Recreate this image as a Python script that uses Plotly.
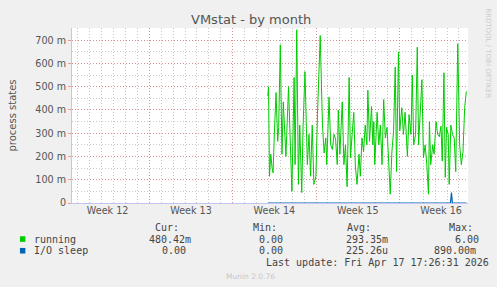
import plotly.graph_objects as go

# ---------------- data ----------------
# time in days since Mon 16 Mar 2026 00:00 (start of Week 12)
run_t = [16.95, 17.01, 17.09, 17.20, 17.31, 17.39, 17.50, 17.64, 17.78, 17.86, 18.00, 18.14, 18.25, 18.47,
         18.69, 18.80, 18.97, 19.16, 19.24, 19.38, 19.52, 19.63, 19.80, 19.91, 20.07, 20.27, 20.41, 20.54,
         20.68, 20.82,
         20.99, 21.12, 21.35, 21.54, 21.68, 21.82, 21.90, 22.09, 22.23, 22.37, 22.51, 22.64, 22.78, 22.87,
         23.00, 23.20, 23.34, 23.47, 23.61, 23.78, 23.89, 24.03, 24.17, 24.30, 24.44, 24.61, 24.72, 24.86,
         24.99, 25.13, 25.27, 25.35,
         25.49, 25.66, 25.77, 25.85, 25.93, 26.13, 26.27, 26.40, 26.54, 26.68, 26.82, 26.96, 27.09, 27.23,
         27.37, 27.51, 27.65, 27.76, 27.92, 28.03, 28.20, 28.34, 28.48, 28.67, 28.81, 28.97, 29.08, 29.20,
         29.36, 29.50,
         29.61, 29.75, 29.89, 30.02, 30.16, 30.30, 30.44, 30.52, 30.63, 30.80, 30.91, 31.08, 31.21, 31.35,
         31.49, 31.60, 31.74, 31.85, 31.96, 32.10, 32.18, 32.32, 32.46, 32.60, 32.73, 32.90, 33.06, 33.20,
         33.34, 33.48, 33.62]
# running, in milli-processes
run_v = [460, 500, 115, 210, 150, 130, 300, 475, 265, 325, 680, 210, 435, 200,
         500, 295, 50, 540, 165, 745, 80, 335, 45, 325, 565, 165, 295, 115,
         335, 80,
         115, 380, 720, 335, 215, 280, 165, 455, 250, 230, 295, 275, 165, 400,
         210, 435, 165, 250, 70, 540, 195, 295, 390, 160, 80, 210, 115, 280,
         220, 335, 250, 485,
         265, 415, 250, 350, 165, 390, 250, 335, 165, 445, 280, 325, 195, 38,
         220, 310, 585, 135, 650, 310, 410, 295, 390, 200, 380, 295, 550, 250,
         295, 670,
         250, 410, 530, 195, 250, 165, 38, 350, 165, 250, 210, 350, 295, 285,
         330, 180, 560, 110, 325, 295, 80, 335, 295, 280, 135, 685, 250, 165,
         220, 410, 480]

io_t = [16.95, 32.29, 32.37, 32.45, 33.62]
io_v = [0, 0, 45, 0, 0]

week_pos = [3.5, 10.5, 17.5, 24.5, 31.5]
week_labels = ["Week 12", "Week 13", "Week 14", "Week 15", "Week 16"]
week_bounds = [7, 14, 21, 28]
y_ticks = [0, 100, 200, 300, 400, 500, 600, 700]
y_labels = ["0", "100 m", "200 m", "300 m", "400 m", "500 m", "600 m", "700 m"]

legend_names = ["running", "I/O sleep"]
legend_colors = ["#00cc00", "#0066b3"]
cur_vals = ["480.42m", "0.00"]
min_vals = ["0.00", "0.00"]
avg_vals = ["293.35m", "225.26u"]
max_vals = ["6.00", "890.00m"]

# ---------------- layout geometry ----------------
W, H = 497, 287
L, R, T, B = 66.7, 467.7, 27.7, 203.3
X_RANGE = [0.508, 33.76]
Y_RANGE = [0, 752.6]


def px2x(px):
    return (px - L) / (R - L)


def py2y(py):
    return (B - py) / (B - T)


AXIS_COL = "#c4c4f0"
MAJOR = "rgba(225,120,120,0.7)"
MINOR = "rgba(170,170,170,0.65)"
DOT = "1px,2px"
TXT = "#555555"

fig = go.Figure()
fig.add_trace(go.Scatter(x=run_t, y=run_v, mode="lines", line=dict(color=legend_colors[0], width=1),
                         hoverinfo="skip", showlegend=False))
fig.add_trace(go.Scatter(x=io_t, y=io_v, mode="lines", line=dict(color=legend_colors[1], width=1.2),
                         hoverinfo="skip", showlegend=False))
# helper invisible trace so the label axis exists
fig.add_trace(go.Scatter(x=X_RANGE, y=[0, 0], xaxis="x2", mode="lines", line=dict(width=0),
                         hoverinfo="skip", showlegend=False))

fig.update_layout(
    width=W, height=H, autosize=False,
    margin=dict(l=L, r=W - R, t=T, b=H - B, pad=0),
    paper_bgcolor="#f0f0f0", plot_bgcolor="#ffffff",
    font=dict(family="DejaVu Sans", color=TXT, size=10),
    xaxis=dict(range=X_RANGE, tickmode="array", tickvals=week_bounds, showticklabels=False,
               showgrid=True, gridcolor=MAJOR, griddash=DOT, gridwidth=1,
               minor=dict(tickmode="linear", tick0=0, dtick=1, showgrid=True,
                          gridcolor=MINOR, griddash=DOT, gridwidth=1, ticks=""),
               ticks="", zeroline=False, showline=True, linecolor=AXIS_COL, linewidth=1, fixedrange=True),
    xaxis2=dict(range=X_RANGE, overlaying="x", anchor="y", side="bottom", tickmode="array",
                tickvals=week_pos, ticktext=week_labels, showgrid=False, zeroline=False, showline=False,
                ticks="", tickfont=dict(size=9.6, color=TXT), fixedrange=True),
    yaxis=dict(range=Y_RANGE, tickmode="array", tickvals=y_ticks, ticktext=y_labels,
               showgrid=True, gridcolor=MAJOR, griddash=DOT, gridwidth=1,
               minor=dict(tickmode="linear", tick0=0, dtick=50, showgrid=True,
                          gridcolor=MINOR, griddash=DOT, gridwidth=1, ticks=""),
               ticks="outside", ticklen=3, tickcolor=MAJOR, tickfont=dict(size=9.6, color=TXT),
               zeroline=False, showline=True, linecolor=AXIS_COL, linewidth=1, fixedrange=True,
               title=dict(text="process states", font=dict(size=10, color=TXT), standoff=16)),
    showlegend=False,
)

ann = []
# title
ann.append(dict(text="VMstat - by month", x=px2x(248), y=py2y(19), xref="paper", yref="paper",
                showarrow=False, font=dict(size=13, color=TXT), xanchor="center", yanchor="middle"))
# rrdtool credit
ann.append(dict(text="RRDTOOL / TOBI OETIKER", x=px2x(488), y=py2y(53), xref="paper", yref="paper",
                showarrow=False, textangle=90, font=dict(size=7, color="#cccccc"),
                xanchor="center", yanchor="middle"))
# axis arrows
ann.append(dict(text="", x=0, y=1, xref="paper", yref="paper", showarrow=True, arrowhead=2,
                arrowsize=1.2, arrowwidth=1, arrowcolor=AXIS_COL, ax=0, ay=2, yshift=6))
ann.append(dict(text="", x=1, y=0, xref="paper", yref="paper", showarrow=True, arrowhead=2,
                arrowsize=1.2, arrowwidth=1, arrowcolor=AXIS_COL, ax=-2, ay=0, xshift=6))

MONO = "DejaVu Sans Mono"
LT = "#444444"


def txt(s, px, py, size=10, color=LT, family=MONO, xanchor="left"):
    ann.append(dict(text=s, x=px2x(px), y=py2y(py), xref="paper", yref="paper", showarrow=False,
                    font=dict(family=family, size=size, color=color), xanchor=xanchor, yanchor="middle"))


txt("Cur:", 149, 227.5)
txt("Min:", 248, 227.5)
txt("Avg:", 343, 227.5)
txt("Max:", 446.7, 227.5)
rows_y = [239.5, 251.2]
cur_x = [143, 156]
min_x = [254.5, 254.5]
avg_x = [341.7, 341.7]
max_x = [453, 431.7]
shapes = []
for i in range(2):
    txt(legend_names[i], 26.7, rows_y[i])
    txt(cur_vals[i], cur_x[i], rows_y[i])
    txt(min_vals[i], min_x[i], rows_y[i])
    txt(avg_vals[i], avg_x[i], rows_y[i])
    txt(max_vals[i], max_x[i], rows_y[i])
    shapes.append(dict(type="rect", xref="paper", yref="paper",
                       x0=px2x(14), x1=px2x(19.5), y0=py2y(rows_y[i] + 2.8), y1=py2y(rows_y[i] - 2.8),
                       fillcolor=legend_colors[i], line=dict(width=0)))
txt("Last update: Fri Apr 17 17:26:31 2026", 261, 263.3)
txt("Munin 2.0.76", 247, 276.7, size=7.5, color="#c8c8c8", family="DejaVu Sans", xanchor="center")

fig.update_layout(annotations=ann, shapes=shapes)
fig.write_html("out.html")
